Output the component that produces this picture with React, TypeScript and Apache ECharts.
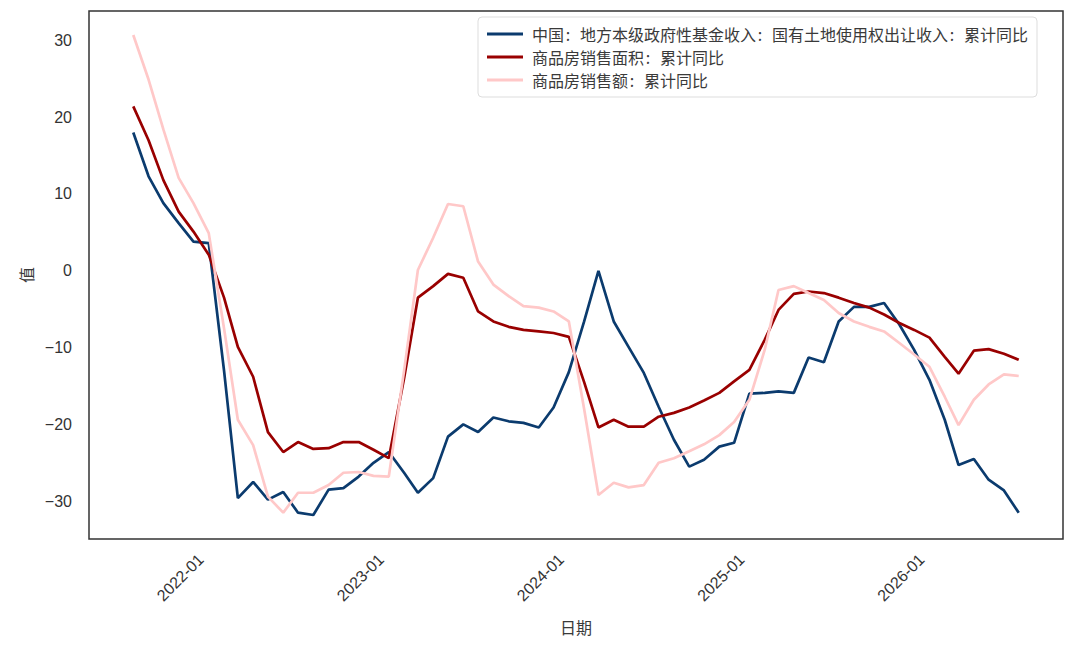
import { useEffect, useRef } from "react";
import * as echarts from "echarts";

// first observation: 2021-08 (first of month), 60 monthly observations
const startYear = 2021;
const startMonth = 8;

const seriesNames = [
  "中国: 地方本级政府性基金收入: 国有土地使用权出让收入: 累计同比",
  "商品房销售面积: 累计同比",
  "商品房销售额: 累计同比",
];

const landRevenue = [
  18.0, 12.3, 8.8, 6.2, 3.8, 3.6, -13.0, -29.6, -27.5, -29.8,
  -28.8, -31.5, -31.8, -28.5, -28.3, -26.8, -25.0, -23.6, -26.3, -28.9,
  -27.0, -21.6, -20.0, -21.0, -19.1, -19.6, -19.8, -20.4, -17.8, -13.2,
  -6.6, 0.0, -6.6, -9.9, -13.3, -17.7, -22.0, -25.5, -24.6, -22.9,
  -22.4, -16.0, -15.9, -15.7, -15.9, -11.3, -11.9, -6.6, -4.7, -4.7,
  -4.2, -7.0, -10.3, -14.2, -19.4, -25.3, -24.5, -27.2, -28.6, -31.5,
];

const salesArea = [
  21.4, 17.0, 11.8, 7.7, 5.1, 2.1, -3.5, -9.9, -13.8, -21.0,
  -23.6, -22.3, -23.2, -23.1, -22.3, -22.3, -23.3, -24.4, -14.0, -3.5,
  -2.0, -0.4, -0.9, -5.3, -6.6, -7.3, -7.7, -7.9, -8.1, -8.6,
  -14.5, -20.4, -19.4, -20.3, -20.3, -19.0, -18.5, -17.8, -16.9, -15.9,
  -14.4, -12.9, -9.0, -5.1, -3.0, -2.7, -2.9, -3.5, -4.2, -4.8,
  -5.7, -6.8, -7.7, -8.7, -11.2, -13.4, -10.4, -10.2, -10.8, -11.6,
];

const salesValue = [
  30.7, 24.9, 18.4, 12.1, 8.8, 4.9, -7.5, -19.4, -22.7, -29.4,
  -31.5, -28.9, -28.9, -27.9, -26.3, -26.2, -26.7, -26.8, -13.0, 0.1,
  4.3, 8.7, 8.4, 1.2, -1.8, -3.3, -4.6, -4.8, -5.3, -6.6,
  -18.0, -29.2, -27.6, -28.2, -27.9, -25.0, -24.4, -23.5, -22.6, -21.4,
  -19.7, -16.8, -10.3, -2.5, -2.0, -2.9, -3.8, -5.5, -6.6, -7.3,
  -7.9, -9.4, -10.9, -12.5, -16.4, -20.1, -16.8, -14.8, -13.5, -13.7,
];

const xTickLabels = ["2022-01", "2023-01", "2024-01", "2025-01", "2026-01"];
const yTicks = [-30, -20, -10, 0, 10, 20, 30];

const colors = ["#0b3b6e", "#990000", "#ffc8c8"];

function monthStart(i: number): number {
  const idx = startMonth - 1 + i;
  const y = startYear + Math.floor(idx / 12);
  const m = idx % 12;
  return Date.UTC(y, m, 1);
}

function tickTime(label: string): number {
  const [y, m] = label.split("-").map(Number);
  return Date.UTC(y, m - 1, 1);
}

export default function App() {
  const ref = useRef<HTMLDivElement>(null);

  useEffect(() => {
    if (!ref.current) return;
    const chart = echarts.init(ref.current, undefined, { renderer: "svg" });

    const dates = landRevenue.map((_, i) => monthStart(i));
    const all = [...landRevenue, ...salesArea, ...salesValue];
    const yMin = Math.min(...all);
    const yMax = Math.max(...all);
    const ySpan = yMax - yMin;
    const xSpan = dates[dates.length - 1] - dates[0];

    const mk = (arr: number[]) => arr.map((v, i) => [dates[i], v]);
    const tickValues = xTickLabels.map(tickTime);

    chart.setOption({
      animation: false,
      backgroundColor: "#ffffff",
      color: colors,
      grid: {
        left: 89,
        right: 17,
        top: 11,
        bottom: 109,
        show: true,
        borderColor: "#333333",
        borderWidth: 1.5,
        backgroundColor: "transparent",
      },
      legend: {
        orient: "vertical",
        left: 478,
        top: 17,
        itemWidth: 36,
        itemHeight: 3,
        itemGap: 7,
        icon: "rect",
        backgroundColor: "#ffffff",
        borderColor: "#dddddd",
        borderWidth: 1,
        borderRadius: 4,
        padding: [9, 9, 9, 9],
        textStyle: {
          fontFamily: "'Noto Sans Mono CJK SC', 'Noto Sans CJK SC'",
          fontSize: 16,
          color: "#3a3a3a",
          padding: [0, 0, 0, 4],
        },
        data: seriesNames,
      },
      xAxis: {
        type: "value",
        min: dates[0] - 0.05 * xSpan,
        max: dates[dates.length - 1] + 0.05 * xSpan,
        name: "日期",
        nameLocation: "middle",
        nameGap: 80,
        nameTextStyle: { fontFamily: "Noto Sans CJK SC", fontSize: 16, color: "#3a3a3a" },
        axisLine: { show: false },
        axisTick: { show: false },
        splitLine: { show: false },
        axisLabel: {
          customValues: tickValues,
          rotate: 45,
          margin: 10,
          padding: [0, 11, 0, 0],
          fontFamily: "Liberation Sans",
          fontSize: 16,
          color: "#333333",
          formatter: (v: number) => {
            const d = new Date(v);
            const mm = String(d.getUTCMonth() + 1).padStart(2, "0");
            return `${d.getUTCFullYear()}-${mm}`;
          },
        },
      },
      yAxis: {
        type: "value",
        min: yMin - 0.05 * ySpan,
        max: yMax + 0.05 * ySpan,
        name: "值",
        nameLocation: "middle",
        nameGap: 53,
        nameRotate: 90,
        nameTextStyle: { fontFamily: "Noto Sans CJK SC", fontSize: 16, color: "#3a3a3a" },
        axisLine: { show: false },
        axisTick: { show: false },
        splitLine: { show: false },
        axisLabel: {
          customValues: yTicks,
          margin: 17,
          fontFamily: "Liberation Sans",
          fontSize: 16,
          color: "#333333",
          formatter: (v: number) => (v < 0 ? "\u2212" + Math.abs(v) : String(v)),
        },
      },
      series: [
        { name: seriesNames[0], type: "line", data: mk(landRevenue) },
        { name: seriesNames[1], type: "line", data: mk(salesArea) },
        { name: seriesNames[2], type: "line", data: mk(salesValue) },
      ].map((s, i) => ({
        ...s,
        symbol: "none",
        showSymbol: false,
        lineStyle: { width: 2.7, color: colors[i] },
        itemStyle: { color: colors[i] },
        z: 2 + i,
      })),
    });

    return () => chart.dispose();
  }, []);

  return (
    <div
      ref={ref}
      style={{ position: "fixed", left: 0, top: 0, width: 1080, height: 648, background: "#fff" }}
    />
  );
}
